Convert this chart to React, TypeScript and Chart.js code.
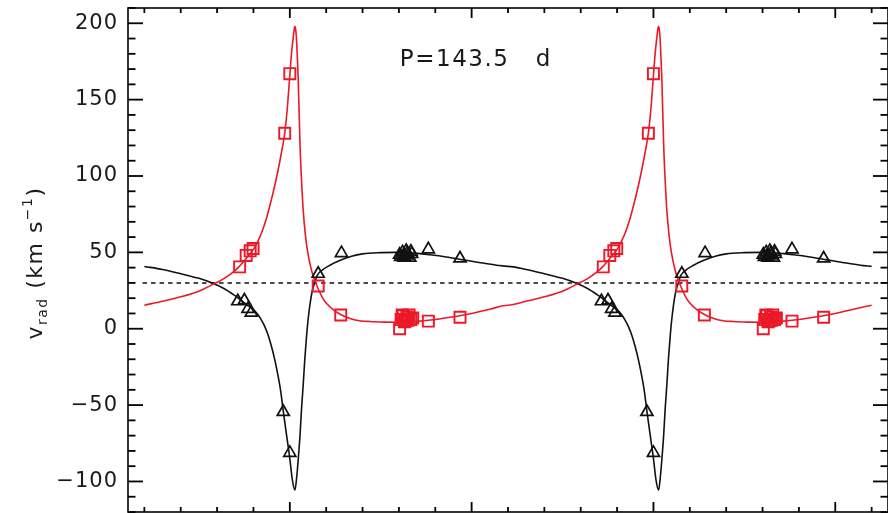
import React, { useEffect, useRef } from "react";
import { Chart, registerables } from "chart.js";

Chart.register(...registerables);

// ---- axis ranges & ticks ----
const X_MIN = -0.445;
const X_MAX = 1.645;
const Y_MIN = -120;
const Y_MAX = 210;
const GAMMA = 30;
const GAMMA_START = -0.405;
const PERIOD_COPIES = [0, 1];

const yMajorTicks = [-100, -50, 0, 50, 100, 150, 200];
const yMinorTicks = [-120, -110, -90, -80, -70, -60, -40, -30, -20, -10, 10, 20, 30, 40, 60, 70, 80, 90, 110, 120, 130, 140, 160, 170, 180, 190, 210];
const xMajorTicks = [0, 0.5, 1.0, 1.5];
const xMinorTicks = [-0.4, -0.3, -0.2, -0.1, 0.1, 0.2, 0.3, 0.4, 0.6, 0.7, 0.8, 0.9, 1.1, 1.2, 1.3, 1.4, 1.6];

const annotText = "P=143.5 d";
const annotPhase = 0.3026;
const annotRv = 171.7;

// ---- observed velocities (one cycle, phase-folded) ----
const primaryPhase = [-0.143, -0.125, -0.115, -0.106, -0.018, 0.0, 0.078, 0.142, 0.302, 0.305, 0.31, 0.313, 0.315, 0.32, 0.323, 0.325, 0.33, 0.333, 0.335, 0.381, 0.468];
const primaryRv = [18, 18.5, 13, 10.5, -54.5, -81.3, 36, 49.5, 48.5, 47, 50, 47.5, 46.5, 51, 49.5, 48, 46.5, 50.5, 49, 52, 46];

const secondaryPhase = [-0.138, -0.12, -0.109, -0.101, -0.014, 0.0, 0.078, 0.14, 0.302, 0.306, 0.309, 0.312, 0.315, 0.318, 0.322, 0.325, 0.328, 0.333, 0.338, 0.381, 0.468];
const secondaryRv = [40.5, 48, 51, 52.5, 128, 167, 28, 9, 0, 6, 9, 8.5, 4.5, 5, 7.5, 5.5, 9, 6, 7, 5, 7.5];

// ---- orbital solution curves ----
const primaryModelPhase = [-0.40, -0.35, -0.30, -0.25, -0.21, -0.18, -0.156, -0.14, -0.12, -0.10, -0.09, -0.08, -0.07, -0.06, -0.05, -0.041, -0.033, -0.025, -0.018, -0.014, -0.007, 0.0, 0.007, 0.014, 0.019, 0.023, 0.028, 0.032, 0.037, 0.041, 0.046, 0.05, 0.056, 0.062, 0.069, 0.075, 0.09, 0.109, 0.137, 0.17, 0.20, 0.25, 0.293, 0.34, 0.385, 0.43, 0.477, 0.52, 0.569, 0.60];
const primaryModelRv = [40.8, 38.8, 36, 33, 29.6, 26.2, 22.5, 19.8, 16, 12.5, 10, 6.5, 2, -4, -12, -20.7, -30, -41, -54, -61, -73, -85, -99, -105.7, -97, -86, -70, -53.4, -36, -20.7, -5, 5.4, 17, 25, 30.5, 34.8, 38.5, 41.4, 44.6, 47.5, 49, 49.8, 50, 49.5, 48.4, 47, 45.1, 43.4, 41.6, 40.8];

const secondaryModelPhase = [-0.40, -0.35, -0.30, -0.25, -0.21, -0.18, -0.156, -0.14, -0.12, -0.10, -0.087, -0.075, -0.064, -0.055, -0.046, -0.037, -0.028, -0.021, -0.014, -0.007, 0.0, 0.005, 0.009, 0.012, 0.014, 0.016, 0.018, 0.021, 0.023, 0.028, 0.032, 0.037, 0.043, 0.05, 0.06, 0.069, 0.08, 0.09, 0.10, 0.12, 0.14, 0.16, 0.183, 0.22, 0.26, 0.30, 0.35, 0.40, 0.45, 0.50, 0.55, 0.60];
const secondaryModelRv = [15.4, 18, 20.9, 24.6, 29.2, 33, 37, 40.5, 46, 52, 57.7, 64.5, 72.5, 80.5, 89, 98.5, 109, 118, 128, 144, 166, 181, 190, 196, 198, 196, 191, 176, 164, 121, 98, 77, 61, 49, 38, 31.6, 25, 20.2, 16.8, 12.3, 9.3, 7.2, 5.6, 4.7, 4.3, 4.2, 4.8, 6, 7.8, 10, 12.8, 15.4];

const RED = "rgb(236, 24, 40)";
const INK = "#111111";

function fold(ph: number[], v: number[]) {
  const out: { x: number; y: number }[] = [];
  for (const c of PERIOD_COPIES) {
    for (let i = 0; i < ph.length; i++) out.push({ x: ph[i] + c, y: v[i] });
  }
  return out;
}

const decorPlugin = {
  id: "decor",
  beforeDraw(chart: any) {
    chart.ctx.letterSpacing = "1px";
  },
  afterDraw(chart: any) {
    const { ctx, chartArea: a, scales } = chart;
    const xs = scales.x;
    const ys = scales.y;
    ctx.save();
    ctx.letterSpacing = "0px";
    ctx.strokeStyle = "#000";
    ctx.lineWidth = 1.6;
    ctx.strokeRect(a.left, a.top, a.right - a.left, a.bottom - a.top);
    ctx.lineWidth = 1.8;
    const seg = (x1: number, y1: number, x2: number, y2: number) => {
      ctx.beginPath();
      ctx.moveTo(x1, y1);
      ctx.lineTo(x2, y2);
      ctx.stroke();
    };
    for (const v of yMinorTicks) {
      const p = ys.getPixelForValue(v);
      seg(a.left, p, a.left + 7.5, p);
      seg(a.right, p, a.right - 7.5, p);
    }
    for (const v of yMajorTicks) {
      const p = ys.getPixelForValue(v);
      seg(a.left, p, a.left + 15, p);
      seg(a.right, p, a.right - 15, p);
    }
    for (const v of xMinorTicks) {
      const p = xs.getPixelForValue(v);
      seg(p, a.bottom, p, a.bottom - 5);
      seg(p, a.top, p, a.top + 5);
    }
    for (const v of xMajorTicks) {
      const p = xs.getPixelForValue(v);
      seg(p, a.bottom, p, a.bottom - 10);
      seg(p, a.top, p, a.top + 10);
    }

    // annotation
    ctx.fillStyle = "#1a1a1a";
    ctx.letterSpacing = "1.5px";
    ctx.font = '23px "DejaVu Sans"';
    ctx.textAlign = "left";
    ctx.textBaseline = "alphabetic";
    const tx = xs.getPixelForValue(annotPhase);
    const ty = ys.getPixelForValue(annotRv);
    const parts = annotText.split(" ");
    ctx.fillText(parts[0], tx, ty);
    ctx.fillText(parts[1], tx + 136, ty);

    // y axis title: v_rad (km s^-1)
    ctx.translate(42, (a.top + a.bottom) / 2 + 3);
    ctx.rotate(-Math.PI / 2);
    const big = '22px "DejaVu Sans"';
    const small = '14px "DejaVu Sans"';
    const pieces: [string, string, number][] = [
      ["v", big, 0],
      ["rad", small, 5],
      [" (km s", big, 0],
      ["\u22121", small, -10],
      [")", big, 0],
    ];
    ctx.letterSpacing = "1.5px";
    let total = 0;
    for (const [t, f] of pieces) {
      ctx.font = f;
      total += ctx.measureText(t).width;
    }
    let x = -total / 2;
    for (const [t, f, dy] of pieces) {
      ctx.font = f;
      ctx.fillText(t, x, dy);
      x += ctx.measureText(t).width;
    }
    ctx.restore();
  },
};

export default function App() {
  const ref = useRef<HTMLCanvasElement | null>(null);
  useEffect(() => {
    if (!ref.current) return;
    const chart = new Chart(ref.current, {
      type: "scatter",
      data: {
        datasets: [
          {
            label: "primary",
            data: fold(primaryPhase, primaryRv),
            pointStyle: "triangle",
            pointRadius: 7,
            pointBorderWidth: 1.7,
            borderColor: INK,
            backgroundColor: "rgba(0,0,0,0)",
            showLine: false,
          },
          {
            label: "secondary",
            data: fold(secondaryPhase, secondaryRv),
            pointStyle: "rect",
            pointRadius: 7.8,
            pointBorderWidth: 1.9,
            borderColor: RED,
            backgroundColor: "rgba(0,0,0,0)",
            showLine: false,
          },
          {
            label: "secondary model",
            data: fold(secondaryModelPhase, secondaryModelRv),
            showLine: true,
            pointRadius: 0,
            borderColor: RED,
            borderWidth: 1.6,
            cubicInterpolationMode: "monotone",
          },
          {
            label: "primary model",
            data: fold(primaryModelPhase, primaryModelRv),
            showLine: true,
            pointRadius: 0,
            borderColor: INK,
            borderWidth: 1.6,
            cubicInterpolationMode: "monotone",
          },
          {
            label: "gamma",
            data: [
              { x: GAMMA_START, y: GAMMA },
              { x: X_MAX, y: GAMMA },
            ],
            showLine: true,
            pointRadius: 0,
            borderColor: INK,
            borderWidth: 1.5,
            borderDash: [4.5, 4],
          },
        ],
      },
      options: {
        animation: false,
        responsive: true,
        maintainAspectRatio: false,
        layout: { autoPadding: false, padding: { top: 8, bottom: 1, left: 0, right: 0 } },
        plugins: { legend: { display: false }, tooltip: { enabled: false }, title: { display: false } },
        scales: {
          x: {
            type: "linear",
            min: X_MIN,
            max: X_MAX,
            display: false,
          },
          y: {
            type: "linear",
            min: Y_MIN,
            max: Y_MAX,
            afterFit: (s: any) => {
              s.width = 128;
              s.paddingTop = 0;
              s.paddingBottom = 0;
              s.paddingLeft = 0;
              s.paddingRight = 0;
            },
            afterBuildTicks: (s: any) => {
              s.ticks = yMajorTicks.map((v) => ({ value: v }));
            },
            grid: { display: false, drawTicks: false },
            border: { display: false },
            ticks: {
              padding: 10,
              color: "#1a1a1a",
              font: { family: "DejaVu Sans", size: 21 },
              callback: (v: any) => String(v).replace("-", "\u2212"),
            },
          },
        },
      },
      plugins: [decorPlugin],
    });
    return () => chart.destroy();
  }, []);
  return (
    <div style={{ position: "absolute", left: 0, top: 0, width: 888, height: 513, background: "#fff" }}>
      <canvas ref={ref} />
    </div>
  );
}
